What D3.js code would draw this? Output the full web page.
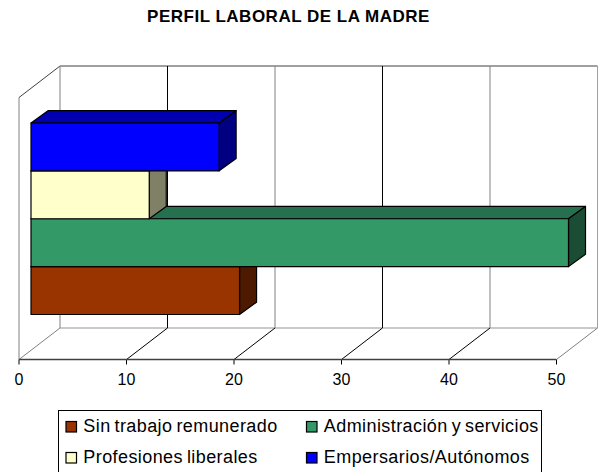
<!DOCTYPE html>
<html><head><meta charset="utf-8">
<script src="https://cdn.jsdelivr.net/npm/d3@7"></script>
<style>html,body{margin:0;padding:0;background:#fff;overflow:hidden}svg{display:block}text{font-family:"Liberation Sans",Arial,sans-serif;fill:#000}</style>
</head><body><div id="c"></div>
<script>
const title = "PERFIL LABORAL DE LA MADRE";
const categories = ["Sin trabajo remunerado","Administración y servicios","Profesiones liberales","Empersarios/Autónomos"];
const values = [19.4,50,11,17.5];
const colors = ["#993300","#339966","#FFFFCC","#0000FF"];
const topColors = ["#7a2900","#267050","#cccca3","#0000b0"];
const sideColors = ["#4d1a00","#1a4d33","#808066","#000080"];
const ticks = [0,10,20,30,40,50];
const W=606,H=472;
const svg=d3.select("#c").append("svg").attr("width",W).attr("height",H);
const x=d3.scaleLinear().domain([0,50]).range([19,556.5]);
const floorY=359.5, wallDx=41, wallDy=31.5, plotTop=97.5;
const grey="#808080";
const line=(x1,y1,x2,y2,c,w=1)=>svg.append("line").attr("x1",x1).attr("y1",y1).attr("x2",x2).attr("y2",y2).attr("stroke",c).attr("stroke-width",w);
// walls
line(x(0),floorY,x(0),plotTop,grey);
line(x(0),plotTop,x(0)+wallDx,plotTop-wallDy,"#404040");
line(x(0)+wallDx,plotTop-wallDy,x(50)+wallDx,plotTop-wallDy,grey,1.5);
line(x(50)+wallDx,plotTop-wallDy,x(50)+wallDx,floorY-wallDy,"#a0a0a0");
line(x(0)+wallDx,floorY-wallDy,x(50)+wallDx,floorY-wallDy,"#b8b8b8",1.5);
ticks.forEach((t,i)=>{
  line(x(t),floorY,x(t)+wallDx,floorY-wallDy,(t===0||t===50)?grey:"#000");
  if(t<50) line(x(t)+wallDx,floorY-wallDy,x(t)+wallDx,plotTop-wallDy,i%2?"#000":grey);
  line(x(t),floorY,x(t),floorY+5,"#000");
  svg.append("text").attr("x",x(t)).attr("y",floorY+25.5).attr("text-anchor","middle").attr("font-size",16).text(t);
});
line(x(0),floorY,x(50),floorY,"#404040",1.3);
// bars, stacked from the bottom category up
const band=d3.scaleBand().domain(categories).range([314.5,123]);
const ox=12, bdx=17, bdy=12.3;
categories.forEach((c,i)=>{
  const x0=x(0)+ox, x1=x(values[i])+ox, y0=band(c), y1=y0+band.bandwidth();
  const g=svg.append("g").attr("stroke","#000").attr("stroke-width",1.2).attr("stroke-linejoin","round");
  g.append("path").attr("fill",topColors[i]).attr("d",`M${x0},${y0}L${x0+bdx},${y0-bdy}H${x1+bdx}L${x1},${y0}Z`);
  g.append("path").attr("fill",sideColors[i]).attr("d",`M${x1},${y0}L${x1+bdx},${y0-bdy}V${y1-bdy}L${x1},${y1}Z`);
  g.append("rect").attr("x",x0).attr("y",y0).attr("width",x1-x0).attr("height",y1-y0).attr("fill",colors[i]);
});
// title
svg.append("text").attr("x",288.5).attr("y",22).attr("text-anchor","middle").attr("font-size",17).attr("font-weight","bold").attr("letter-spacing",0.5).text(title);
// legend (its lower edge lies beyond the picture)
const lx=58.5, ly=410.5;
svg.append("rect").attr("x",lx).attr("y",ly).attr("width",483).attr("height",70).attr("fill","#fff").attr("stroke","#000");
const cols=[66,306.5], rows=[421.5,452.5];
categories.forEach((c,i)=>{
  const cx=cols[i%2], cy=rows[i>>1];
  svg.append("rect").attr("x",cx).attr("y",cy).attr("width",10.5).attr("height",10.5).attr("fill",colors[i]).attr("stroke","#000").attr("stroke-width",1.2);
  svg.append("text").attr("x",cx+17.3).attr("y",cy+10.5).attr("font-size",18).attr("letter-spacing",0.42).attr("word-spacing",-1.5).text(c);
});
</script></body></html>
